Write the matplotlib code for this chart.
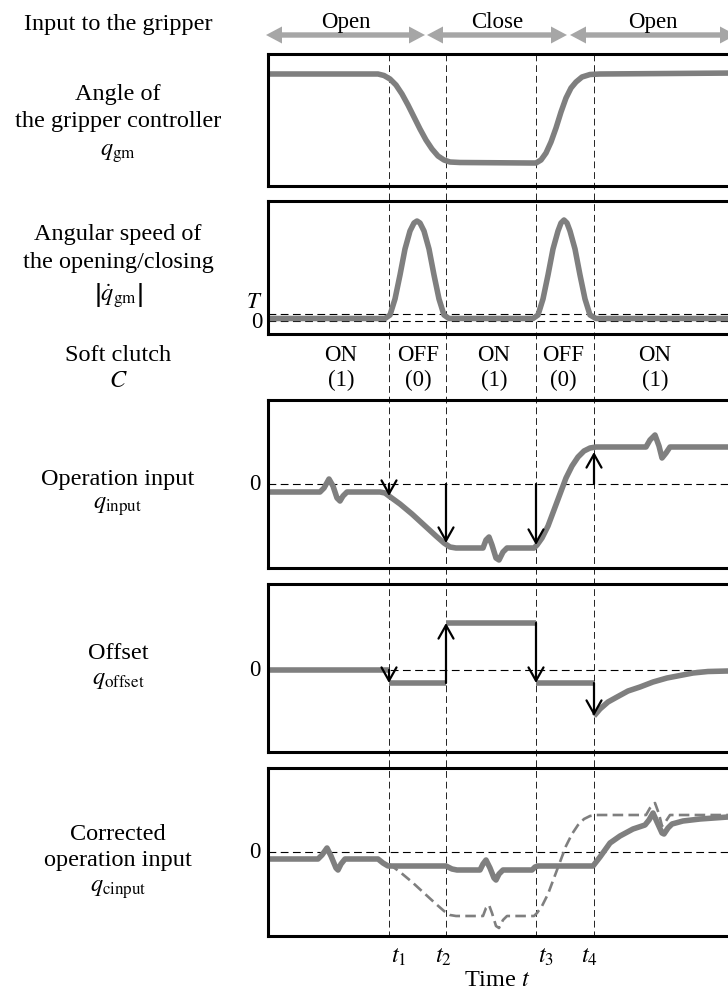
import numpy as np
import matplotlib
matplotlib.use('Agg')
import matplotlib.pyplot as plt
from matplotlib import transforms
from matplotlib.lines import Line2D

plt.rcParams['font.family'] = ['Liberation Serif', 'DejaVu Serif']
plt.rcParams['mathtext.fontset'] = 'stix'

# ------------------------------------------------------------------ data
event_t = [121, 178, 268, 326]                       # t1..t4
event_labels = [r'$t_1$', r'$t_2$', r'$t_3$', r'$t_4$']

phase_labels = ['Open', 'Close', 'Open']
phase_bounds = [(-2, 157), (159, 299), (302, 468)]

clutch_state = ['ON', 'OFF', 'ON', 'OFF', 'ON']
clutch_value = ['(1)', '(0)', '(1)', '(0)', '(1)']

# angle of gripper controller q_gm
angle_t = [0, 110, 116, 122, 128, 134, 140, 146, 152, 158, 164, 170, 176, 182, 192, 262,
           268, 273, 278, 283, 288, 293, 298, 303, 308, 314, 322, 332, 470]
angle_q = [112, 112, 110.5, 107, 101, 92, 81, 69, 57, 46, 37, 30, 26, 24, 23.5, 23,
           23, 26, 33, 44, 58, 74, 88, 98, 104, 109, 111.5, 112, 113]

# angular speed |dq_gm|
speed_t = [0, 117, 122, 127, 132, 137, 142, 146, 149, 152, 156, 161, 166, 171, 176, 181,
           265, 270, 275, 280, 285, 290, 293, 296, 299, 302, 307, 312, 317, 322, 328, 470]
speed_v = [2.5, 2.5, 6, 22, 46, 72, 90, 98, 100, 98, 90, 72, 46, 22, 6, 2.5,
           2.5, 6, 22, 46, 72, 90, 98, 101, 98, 90, 72, 46, 22, 6, 2.5, 2.5]
speed_threshold = 7

# operation input q_input
input_t = [0, 52, 56, 61, 65, 69, 72, 75, 79, 112, 117, 121, 132, 144, 156, 168, 176, 182,
           188, 215, 218, 221, 224, 228, 231, 235, 239, 266, 269, 274, 280, 286, 292, 298,
           304, 310, 316, 322, 328, 378, 382, 387, 391, 394, 398, 402, 470]
input_q = [-8, -8, -4, 5, -2, -14, -17, -12, -8, -8, -9, -12, -20, -30, -41, -52, -59, -63,
           -64, -64, -56, -53, -61, -74, -76, -68, -64, -64, -61, -54, -42, -26, -10, 6,
           18, 27, 33, 36, 37, 37, 44, 49, 38, 26, 31, 37, 37]
input_arrow_end = [-12, -59, -61, 32]

# offset q_offset
offset_levels = [0, -13, 47, -13]                   # on [0,t1], [t1,t2], [t2,t3], [t3,t4]
offset_decay_t = [326, 332, 340, 349, 360, 372, 385, 399, 412, 425, 440, 460, 470]
offset_decay_q = [-46, -39, -32, -27, -21, -17, -12, -8, -5.5, -3, -1.5, -1, -0.5]

# corrected operation input q_cinput
cinput_t = [0, 50, 54, 59, 63, 68, 70, 73, 77, 110, 115, 120, 178, 184, 189, 212, 215, 218,
            222, 226, 228, 231, 235, 264, 267, 270, 325, 332, 342, 352, 365, 377, 381, 385,
            389, 394, 396, 400, 404, 415, 432, 460, 470]
cinput_q = [-7, -7, -3, 4, -4, -16, -18, -12, -7, -7, -11, -14, -14, -17, -18, -18, -12, -8,
            -16, -26, -28, -22, -18, -18, -15, -14, -14, -5, 9, 16, 23, 27, 32, 39,
            30, 19, 18, 24, 28, 31, 33, 35, 35]

left_labels = [
    ['Input to the gripper'],
    ['Angle of', 'the gripper controller', r'$q_{\mathrm{gm}}$'],
    ['Angular speed of', 'the opening/closing', r'$\left|\dot{q}_{\mathrm{gm}}\right|$'],
    ['Soft clutch', r'$C$'],
    ['Operation input', r'$q_{\mathrm{input}}$'],
    ['Offset', r'$q_{\mathrm{offset}}$'],
    ['Corrected', 'operation input', r'$q_{\mathrm{cinput}}$'],
]

# ------------------------------------------------------------------ layout (pixels)
W, H = 728, 992
fig = plt.figure(figsize=(W / 100, H / 100), dpi=100)
AX_L, AX_R = 268, 740
panels_px = [(54, 186), (201, 334), (400, 568), (584, 752), (768, 936)]
ylims = [(0, 132), (-13, 120), (-84, 84), (-82, 86), (-84, 84)]
GRAY = '#7f7f7f'
AGRAY = '#a6a6a6'
FS = 17.5
FS2 = 16.5
LW = 4.0
DASH = (0, (7, 4))


def fx(x):
    return x / W


def fy(y):
    return 1 - y / H


axes = []
for (top, bot), yl in zip(panels_px, ylims):
    ax = fig.add_axes([fx(AX_L), fy(bot), (AX_R - AX_L) / W, (bot - top) / H])
    ax.set_xlim(0, AX_R - AX_L)
    ax.set_ylim(*yl)
    ax.set_xticks([])
    ax.set_yticks([])
    ax.patch.set_alpha(0)
    for s in ax.spines.values():
        s.set_linewidth(2.2)
        s.set_color('black')
    axes.append(ax)
ax1, ax2, ax3, ax4, ax5 = axes

# vertical event lines spanning all panels
trans = transforms.blended_transform_factory(ax1.transData, fig.transFigure)
for t in event_t:
    fig.lines.append(Line2D([t, t], [fy(panels_px[0][0]), fy(panels_px[-1][1])],
                            transform=trans, color='#222222', lw=0.7, ls=DASH, zorder=-1))

line_kw = dict(color=GRAY, lw=LW, solid_capstyle='butt', solid_joinstyle='round')

# panel 1
ax1.plot(angle_t, angle_q, **line_kw)

# panel 2
ax2.axhline(speed_threshold, color='black', lw=0.8, ls=DASH)
ax2.axhline(0, color='black', lw=0.8, ls=DASH)
ax2.plot(speed_t, speed_v, **line_kw)
fig.text(fx(262), fy(303), r'$T$', ha='right', va='center', fontsize=FS2)
fig.text(fx(262), fy(322), '0', ha='right', va='center', fontsize=FS2)

arrow_kw = dict(arrowstyle='->,head_length=0.48,head_width=0.27', lw=1.6, color='black',
                shrinkA=0, shrinkB=0, mutation_scale=20)

# panel 3
ax3.axhline(0, color='black', lw=0.8, ls=DASH)
ax3.plot(input_t, input_q, **line_kw)
for t, e in zip(event_t, input_arrow_end):
    ax3.annotate('', xy=(t, e), xytext=(t, 0), arrowprops=arrow_kw)

# panel 4
ax4.axhline(0, color='black', lw=0.8, ls=DASH)
starts = [0] + event_t[:-1]
for a, b, lv in zip(starts, event_t, offset_levels):
    ax4.plot([a, b], [lv, lv], **line_kw)
ax4.plot(offset_decay_t, offset_decay_q, **line_kw)
prev = offset_levels[0]
arrow_targets = offset_levels[1:] + [offset_decay_q[0]]
for t, tgt in zip(event_t, arrow_targets):
    ax4.annotate('', xy=(t, tgt), xytext=(t, prev), arrowprops=arrow_kw)
    prev = tgt

# panel 5
ax5.axhline(0, color='black', lw=0.8, ls=DASH)
it = np.array(input_t, dtype=float)
iq = np.array(input_q, dtype=float)
mask = it >= event_t[0]
ax5.plot(it[mask], iq[mask], color=GRAY, lw=1.9, ls=(0, (4, 2)))
ax5.plot(cinput_t, cinput_q, **line_kw)

for zero_y in (484, 670, 852):
    fig.text(fx(261), fy(zero_y), '0', ha='right', va='center', fontsize=FS2)

# top row double arrows
axa = fig.add_axes([fx(AX_L), fy(45), (AX_R - AX_L) / W, 20 / H])
axa.set_xlim(0, AX_R - AX_L)
axa.set_ylim(-10, 10)
axa.axis('off')
sw, hw, hl = 2.7, 8.5, 16
for (a, b), lab in zip(phase_bounds, phase_labels):
    xs = [a, a + hl, a + hl, b - hl, b - hl, b, b - hl, b - hl, a + hl, a + hl]
    ys = [0, hw, sw, sw, hw, 0, -hw, -sw, -sw, -hw]
    axa.fill(xs, ys, color=AGRAY, lw=0, clip_on=False)
    fig.text(fx(AX_L + (a + b) / 2), fy(28), lab, ha='center', va='baseline', fontsize=FS2)

# soft clutch row
clutch_px = [341, 418, 494, 563, 655]
for x, s, v in zip(clutch_px, clutch_state, clutch_value):
    fig.text(fx(x), fy(361), s, ha='center', va='baseline', fontsize=FS2)
    fig.text(fx(x), fy(386), v, ha='center', va='baseline', fontsize=FS2)

# left labels
label_baselines = [[30], [100, 127, 156], [240, 268, 301], [361, 387],
                   [485, 509], [659, 684], [840, 866, 892]]
for lines, ys in zip(left_labels, label_baselines):
    for txt, y in zip(lines, ys):
        fig.text(fx(118), fy(y), txt, ha='center', va='baseline', fontsize=FS)

# time labels
label_dx = [10, -3, 10, -5]
for t, lab, dx in zip(event_t, event_labels, label_dx):
    fig.text(fx(AX_L + t + dx), fy(963), lab, ha='center', va='baseline', fontsize=FS)
fig.text(fx(497), fy(986), r'Time $t$', ha='center', va='baseline', fontsize=FS)

fig.savefig('out.png', dpi=100)
